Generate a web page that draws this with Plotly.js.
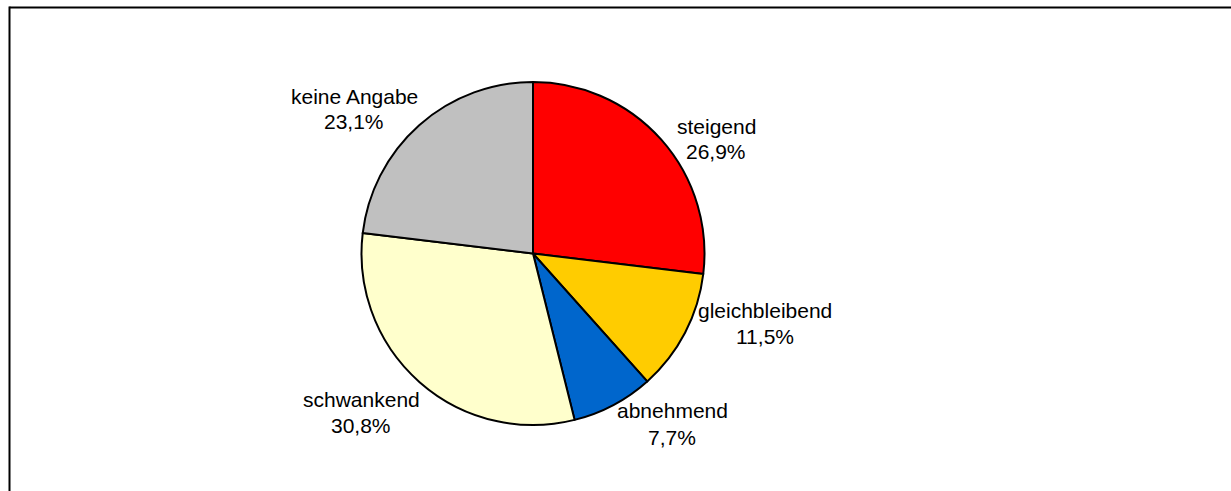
<!DOCTYPE html>
<html>
<head>
<meta charset="utf-8">
<script src="https://cdn.plot.ly/plotly-3.0.1.min.js"></script>
<style>
html,body{margin:0;padding:0;background:#fff;}
#chart{width:1231px;height:491px;}
</style>
</head>
<body>
<div id="chart"></div>
<script>
// Data
var categories = ["steigend", "gleichbleibend", "abnehmend", "schwankend", "keine Angabe"];
var values = [26.9, 11.5, 7.7, 30.8, 23.1];
var valueLabels = ["26,9%", "11,5%", "7,7%", "30,8%", "23,1%"];

// Styling / placement (not data)
var colors = ["#FF0000", "#FFCC00", "#0066CC", "#FFFFCC", "#C0C0C0"];
var W = 1231, H = 491;
// label centers in pixels: [x, yName, yValue]
var labelPos = [
  [716, 126, 151],
  [765, 310, 336],
  [672, 410, 437],
  [361, 399, 425],
  [354, 96, 121]
];

var font = {family: "Liberation Sans, Arial, sans-serif", size: 21, color: "#000"};
var annotations = [];
categories.forEach(function (c, i) {
  var p = labelPos[i];
  annotations.push({text: c, x: p[0] / W, y: 1 - p[1] / H, xref: "paper", yref: "paper",
    showarrow: false, xanchor: "center", yanchor: "middle", font: font});
  annotations.push({text: valueLabels[i], x: p[0] / W, y: 1 - p[2] / H, xref: "paper", yref: "paper",
    showarrow: false, xanchor: "center", yanchor: "middle", font: font});
});

var cx = 533, cy = 253.5, r = 171.5;
var trace = {
  type: "pie",
  labels: categories,
  values: values,
  sort: false,
  direction: "clockwise",
  rotation: 0,
  textinfo: "none",
  hoverinfo: "label+percent",
  marker: {colors: colors, line: {color: "#000", width: 2}},
  domain: {x: [(cx - r) / W, (cx + r) / W], y: [(H - cy - r) / H, (H - cy + r) / H]},
  showlegend: false
};

var layout = {
  width: W, height: H,
  margin: {l: 0, r: 0, t: 0, b: 0},
  paper_bgcolor: "#fff",
  showlegend: false,
  separators: ",.",
  annotations: annotations,
  shapes: [
    {type: "line", xref: "paper", yref: "paper", x0: 9.5 / W, x1: 1, y0: 1 - 7.5 / H, y1: 1 - 7.5 / H, line: {color: "#000", width: 2}},
    {type: "line", xref: "paper", yref: "paper", x0: 9.5 / W, x1: 9.5 / W, y0: 0, y1: 1 - 6.5 / H, line: {color: "#000", width: 2}}
  ]
};

Plotly.newPlot("chart", [trace], layout, {staticPlot: true, displayModeBar: false});
</script>
</body>
</html>
